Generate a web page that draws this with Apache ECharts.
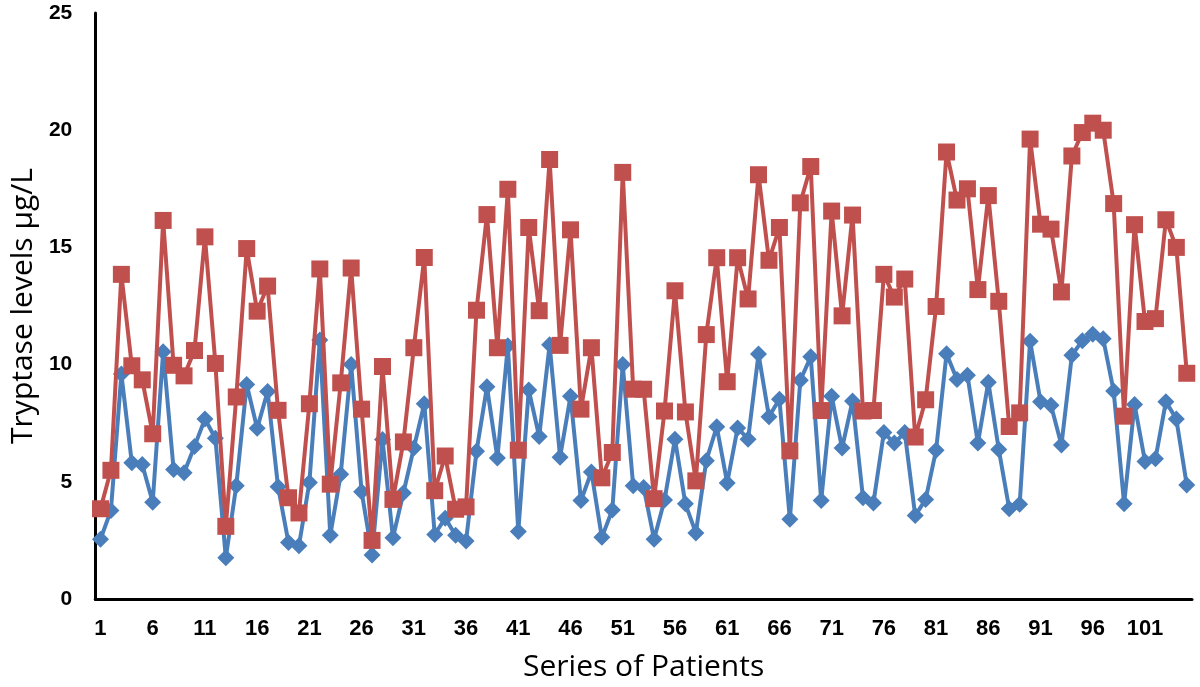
<!DOCTYPE html>
<html>
<head>
<meta charset="utf-8">
<script src="https://cdn.jsdelivr.net/npm/echarts@6/dist/echarts.min.js"></script>
<style>html,body{margin:0;padding:0;background:#fff}#c{width:1200px;height:687px}</style>
</head>
<body>
<div id="c"></div>
<script>
const categories = Array.from({length: 105}, (_, i) => String(i + 1));
const yTicks = [0, 5, 10, 15, 20, 25];
const xTitle = 'Series of Patients';
const yTitle = 'Tryptase levels µg/L';
const blueValues = [
  2.55, 3.78, 9.6, 5.81, 5.74, 4.13, 10.55, 5.53, 5.39, 6.51,
  7.68, 6.86, 1.76, 4.83, 9.15, 7.28, 8.85, 4.79, 2.41, 2.27,
  4.97, 11.05, 2.72, 5.32, 10.0, 4.58, 1.88, 6.8, 2.61, 4.52,
  6.44, 8.33, 2.75, 3.45, 2.72, 2.47, 6.3, 9.05, 6.02, 10.8,
  2.88, 8.92, 6.93, 10.85, 6.05, 8.65, 4.2, 5.42, 2.63, 3.8,
  10.0, 4.83, 4.76, 2.55, 4.22, 6.82, 4.06, 2.82, 5.9, 7.35,
  4.95, 7.3, 6.82, 10.45, 7.78, 8.52, 3.4, 9.33, 10.33, 4.2,
  8.65, 6.44, 8.45, 4.32, 4.1, 7.1, 6.65, 7.1, 3.56, 4.25,
  6.35, 10.46, 9.36, 9.55, 6.65, 9.25, 6.38, 3.85, 4.04, 11.0,
  8.42, 8.27, 6.57, 10.4, 11.02, 11.3, 11.1, 8.87, 4.06, 8.3,
  5.87, 5.98, 8.42, 7.68, 4.86
];
const redValues = [
  3.85, 5.49, 13.85, 9.95, 9.35, 7.05, 16.15, 9.97, 9.52, 10.6,
  15.45, 10.05, 3.1, 8.62, 14.95, 12.28, 13.35, 8.05, 4.32, 3.67,
  8.33, 14.08, 4.9, 9.22, 14.12, 8.1, 2.5, 9.92, 4.25, 6.7,
  10.72, 14.57, 4.62, 6.1, 3.83, 3.93, 12.32, 16.4, 10.72, 17.48,
  6.35, 15.85, 12.3, 18.75, 10.82, 15.75, 8.1, 10.72, 5.17, 6.25,
  18.2, 8.95, 8.95, 4.28, 8.02, 13.15, 7.98, 5.04, 11.28, 14.56,
  9.27, 14.56, 12.8, 18.1, 14.45, 15.85, 6.32, 16.9, 18.45, 8.04,
  16.55, 12.08, 16.38, 8.02, 8.04, 13.85, 12.88, 13.65, 6.91, 8.5,
  12.48, 19.07, 17.02, 17.5, 13.2, 17.21, 12.7, 7.36, 7.94, 19.62,
  15.99, 15.78, 13.1, 18.9, 19.9, 20.3, 20.0, 16.87, 7.8, 15.97,
  11.84, 11.96, 16.18, 15.0, 9.63
];

const chart = echarts.init(document.getElementById('c'), null, {renderer: 'canvas'});
const tickFont = {fontFamily: 'Liberation Sans, Arial, sans-serif', fontWeight: 'bold', color: '#000'};
const titleFont = {fontFamily: 'Open Sans, Liberation Sans, sans-serif', fontSize: 30, color: '#000'};
chart.setOption({
  animation: false,
  backgroundColor: '#fff',
  grid: {left: 83, right: 8, top: 13, bottom: 79, containLabel: false},
  xAxis: {
    type: 'category',
    data: categories,
    boundaryGap: true,
    name: xTitle,
    nameLocation: 'middle',
    nameGap: 53,
    nameTextStyle: titleFont,
    axisLine: {lineStyle: {color: '#000', width: 3}},
    axisTick: {show: false},
    axisLabel: Object.assign({interval: 4, margin: 19, fontSize: 22}, tickFont),
    splitLine: {show: false}
  },
  yAxis: {
    type: 'value',
    min: yTicks[0],
    max: yTicks[yTicks.length - 1],
    interval: yTicks[1] - yTicks[0],
    name: yTitle,
    nameLocation: 'middle',
    nameGap: 53,
    nameTextStyle: titleFont,
    axisLine: {show: true, lineStyle: {color: '#000', width: 3}},
    axisTick: {show: false},
    axisLabel: Object.assign({margin: 23, fontSize: 21}, tickFont),
    splitLine: {show: false}
  },
  series: [
    {
      name: 'Series 1',
      type: 'line',
      data: blueValues,
      symbol: 'diamond',
      symbolSize: 17,
      showAllSymbol: true,
      lineStyle: {color: '#4A7EBB', width: 4},
      itemStyle: {color: '#4A7EBB'},
      z: 2
    },
    {
      name: 'Series 2',
      type: 'line',
      data: redValues,
      symbol: 'rect',
      symbolSize: 17,
      showAllSymbol: true,
      lineStyle: {color: '#C0504D', width: 4},
      itemStyle: {color: '#C0504D'},
      z: 3
    }
  ]
});
</script>
</body>
</html>
